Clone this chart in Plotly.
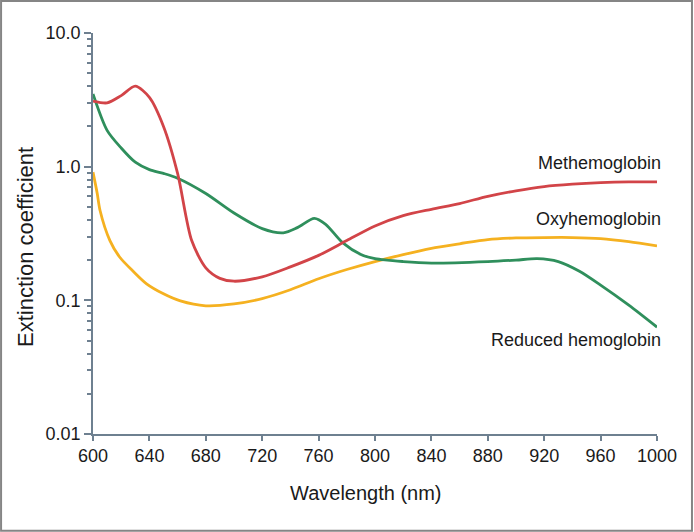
import plotly.graph_objects as go

# ---- data ----
met_wl = [600, 610, 620, 630, 640, 650, 660, 670, 680, 690, 700, 720, 740, 760, 780,
          800, 820, 840, 860, 880, 900, 920, 940, 960, 980, 1000]
met_val = [3.1, 3.0, 3.4, 4.0, 3.3, 2.0, 0.89, 0.28, 0.175, 0.146, 0.139, 0.15, 0.178,
           0.217, 0.28, 0.36, 0.43, 0.48, 0.53, 0.6, 0.66, 0.71, 0.74, 0.76, 0.77, 0.77]

red_wl = [600, 610, 620, 630, 640, 650, 660, 680, 700, 720, 735, 745, 757, 765, 777,
          790, 800, 820, 840, 880, 900, 915, 930, 945, 960, 980, 1000]
red_val = [3.5, 1.87, 1.38, 1.08, 0.95, 0.89, 0.82, 0.63, 0.45, 0.344, 0.32, 0.35, 0.41,
           0.37, 0.27, 0.22, 0.205, 0.195, 0.19, 0.195, 0.2, 0.205, 0.195, 0.165, 0.13,
           0.092, 0.063]

oxy_wl = [600, 603, 605, 612, 619, 629, 638, 650, 662, 680, 700, 720, 740, 760, 780,
          800, 820, 840, 860, 880, 900, 920, 940, 960, 980, 1000]
oxy_val = [0.91, 0.63, 0.47, 0.28, 0.21, 0.163, 0.133, 0.112, 0.099, 0.091, 0.094, 0.103,
           0.12, 0.145, 0.17, 0.195, 0.22, 0.245, 0.265, 0.285, 0.293, 0.295, 0.295,
           0.29, 0.275, 0.255]

series_names = ["Methemoglobin", "Oxyhemoglobin", "Reduced hemoglobin"]
x_ticks = [600, 640, 680, 720, 760, 800, 840, 880, 920, 960, 1000]
y_ticks = [0.01, 0.1, 1, 10]
y_tick_labels = ["0.01", "0.1", "1.0", "10.0"]
y_minor = [m * 10 ** e for e in (-2, -1, 0) for m in range(2, 10)]

FONT = "Liberation Sans, Arial, sans-serif"
AXIS_COLOR = "#6e8090"
TEXT_COLOR = "#1a1a1a"

fig = go.Figure()
fig.add_trace(go.Scatter(x=oxy_wl, y=oxy_val, mode="lines", name=series_names[1],
                         line=dict(color="#f5b120", width=2.8, shape="spline", smoothing=0.8)))
fig.add_trace(go.Scatter(x=red_wl, y=red_val, mode="lines", name=series_names[2],
                         line=dict(color="#2f8f5c", width=2.8, shape="spline", smoothing=0.8)))
fig.add_trace(go.Scatter(x=met_wl, y=met_val, mode="lines", name=series_names[0],
                         line=dict(color="#d24448", width=2.8, shape="spline", smoothing=0.8)))

fig.update_layout(
    width=694, height=532,
    margin=dict(l=93, r=37, t=33, b=98, autoexpand=False),
    paper_bgcolor="white", plot_bgcolor="white",
    showlegend=False,
    font=dict(family=FONT, size=18, color=TEXT_COLOR),
)
fig.update_xaxes(
    range=[600, 1000], tickvals=x_ticks, showgrid=False, zeroline=False,
    showline=True, linecolor=AXIS_COLOR, linewidth=1.5,
    ticks="outside", ticklen=5, tickcolor=AXIS_COLOR, tickwidth=1.5,
    tickfont=dict(size=18),
)
fig.update_yaxes(
    type="log", range=[-2, 1], tickvals=y_ticks, ticktext=y_tick_labels,
    showgrid=False, zeroline=False,
    showline=True, linecolor=AXIS_COLOR, linewidth=1.5,
    ticks="outside", ticklen=7, tickcolor=AXIS_COLOR, tickwidth=1.5,
    tickfont=dict(size=18),
    minor=dict(tickvals=y_minor, ticks="outside", ticklen=4, tickcolor=AXIS_COLOR,
               tickwidth=1.5, showgrid=False),
)

# axis titles (as annotations to match the reference placement)
fig.add_annotation(x=(366 - 93) / 564, y=-(493 - 434) / 401, xref="paper", yref="paper",
                   text="Wavelength (nm)", showarrow=False, xanchor="center",
                   yanchor="middle", font=dict(size=20, color=TEXT_COLOR))
fig.add_annotation(x=-(93 - 25) / 564, y=(434 - 247) / 401, xref="paper", yref="paper",
                   text="Extinction coefficient", showarrow=False, textangle=-90,
                   xanchor="center", yanchor="middle", font=dict(size=22, color=TEXT_COLOR))

label_pos = [(0.026, series_names[0]), (-0.393, series_names[1]), (-1.3, series_names[2])]
for ly, txt in label_pos:
    fig.add_annotation(x=1000, y=ly, xref="x", yref="y", text=txt, showarrow=False,
                       xshift=6, xanchor="right", yanchor="middle",
                       font=dict(size=18, color=TEXT_COLOR))

fig.add_shape(type="rect", xref="paper", yref="paper",
              x0=-0.163, x1=1.062, y0=-0.241, y1=1.08,
              line=dict(color="#858585", width=2), fillcolor="rgba(0,0,0,0)", layer="below")

fig.write_html("out.html", config={"displayModeBar": False},
               post_script="document.body.style.margin='0px';")
